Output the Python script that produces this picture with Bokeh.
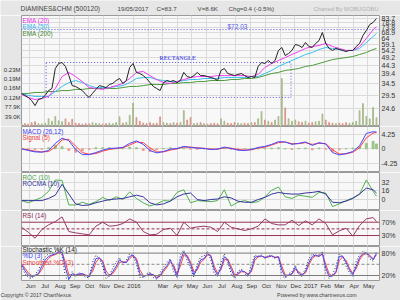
import pandas as pd
from bokeh.plotting import figure
from bokeh.layouts import column
from bokeh.models import (Range1d, LinearAxis, LinearScale, FixedTicker, Label, Span, Grid,
                          CustomJSTickFormatter)
from bokeh.embed import file_html
from bokeh.resources import INLINE

# ---------------- data ----------------
symbol = "DIAMINES&CHM (500120)"
last_date = "19/05/2017"
last_close = "C=83.7"
last_volume = "V=8.6K"
change_text = "Chg=0.4 (-0.5%)"
credit = "Charted By MOBUGOBU"
copyright_text = "Copyright \u00a9 2017 ChartNexus"
powered_text = "Powered by www.chartnexus.com"

week_dates = list(pd.date_range("2015-05-15", "2017-05-19", freq="7D"))
ind_dates = week_dates[::2] + [week_dates[-1]]

close = [30.2, 29.4, 28.6, 27.4, 25.6, 27.8, 28.2, 29.4, 31.4, 32.3,
         42.4, 45.4, 46.0, 43.6, 38.5, 33.6, 33.2, 32.3, 31.4, 29.8,
         28.6, 30.2, 31.9, 33.6, 33.2, 32.7, 34.1, 34.6, 36.0, 37.0,
         34.6, 36.0, 43.0, 45.4, 40.2, 39.6, 38.5, 37.0, 35.0, 33.2,
         32.3, 31.4, 35.0, 36.0, 35.5, 36.0, 35.0, 36.0, 40.2, 38.0,
         37.5, 38.5, 40.2, 38.5, 38.5, 38.0, 37.5, 37.0, 36.0, 41.3,
         42.4, 39.6, 39.1, 38.5, 39.1, 39.6, 38.5, 37.5, 38.0, 37.5,
         43.6, 46.0, 45.4, 47.3, 45.4, 47.3, 54.2, 56.4, 50.6, 52.0,
         54.2, 58.8, 58.0, 56.4, 60.4, 57.2, 56.4, 59.6, 62.0, 69.2,
         59.6, 55.7, 54.2, 55.7, 54.9, 54.2, 53.4, 54.2, 54.2, 57.2,
         59.6, 66.4, 71.1, 77.1, 79.3, 83.7]

volume_k = [12, 10, 8, 14, 18, 10, 9, 12, 30, 20,
            40, 22, 18, 30, 15, 28, 12, 10, 8, 10,
            9, 14, 12, 10, 8, 10, 12, 10, 14, 38,
            12, 15, 45, 95, 35, 20, 12, 10, 14, 10,
            12, 38, 15, 12, 10, 14, 12, 15, 64, 25,
            35, 10, 12, 14, 10, 8, 10, 12, 10, 30,
            20, 12, 10, 14, 12, 10, 12, 10, 14, 15,
            30, 60, 25, 20, 15, 25, 40, 197, 75, 30,
            20, 25, 18, 15, 20, 12, 15, 18, 20, 50,
            25, 15, 12, 10, 12, 10, 14, 12, 15, 20,
            64, 93, 40, 30, 77, 35]

ema20 = [29.8, 28.6, 27.8, 28.2, 29.0, 32.3, 38.0, 40.2, 38.0, 35.5,
         32.7, 32.3, 31.9, 32.7, 33.6, 34.6, 37.0, 40.2, 40.7, 38.5,
         36.5, 35.0, 34.6, 35.5, 36.5, 37.5, 38.0, 38.0, 38.0, 38.5,
         38.5, 38.5, 38.5, 38.5, 38.0, 39.1, 43.0, 45.4, 47.3, 49.2,
         51.3, 53.4, 55.7, 57.2, 58.0, 59.6, 57.2, 55.7, 54.2, 54.2,
         57.2, 63.8, 71.9, 74.9]
ema50 = [30.2, 29.4, 29.0, 29.0, 29.0, 31.0, 33.2, 35.0, 36.0, 35.0,
         33.6, 32.7, 32.7, 32.7, 33.2, 33.6, 35.0, 37.0, 37.5, 37.5,
         36.5, 36.0, 35.5, 35.5, 36.0, 36.5, 36.5, 37.0, 37.0, 37.0,
         37.5, 37.5, 37.5, 37.5, 38.0, 38.0, 39.6, 41.3, 43.6, 45.4,
         47.3, 49.2, 51.3, 52.7, 54.9, 56.4, 55.7, 54.9, 54.2, 54.2,
         55.7, 60.4, 65.5, 68.2]
ema200 = [30.2, 30.2, 30.6, 30.6, 31.0, 31.0, 31.4, 31.4, 31.9, 31.9,
          32.3, 32.3, 32.3, 32.3, 32.3, 32.7, 33.2, 33.2, 33.6, 34.1,
          34.1, 34.1, 34.6, 34.6, 35.0, 35.0, 35.5, 35.5, 36.0, 36.0,
          36.0, 36.5, 36.5, 37.0, 37.0, 37.5, 38.5, 39.6, 40.2, 41.3,
          41.8, 42.4, 43.6, 44.2, 45.4, 46.6, 47.9, 48.6, 49.2, 49.9,
          51.3, 52.7, 54.9, 55.7]

macd = [0.0, -0.5, -0.9, -1.0, -0.5, 1.6, 3.1, 2.4, -0.2, -1.7,
        -1.7, -1.1, -0.4, 0.1, 0.2, 0.4, 1.6, 2.3, 1.3, -0.5,
        -1.2, -0.8, -0.1, 0.1, 0.7, 0.4, 0.2, 0.1, -0.2, -0.1,
        0.5, 0.1, -0.4, -0.5, -0.2, 0.4, 0.7, 1.3, 2.1, 2.0,
        1.3, 1.6, 2.0, 1.0, 1.8, 1.4, -1.1, -1.8, -1.4, -0.8,
        0.9, 4.5, 5.0, 4.9]
signal = [0.0, -0.3, -0.7, -0.9, -0.8, 0.5, 2.6, 2.8, 0.8, -1.1,
          -1.6, -1.4, -0.7, -0.2, 0.1, 0.3, 1.1, 2.0, 1.8, 0.3,
          -0.9, -0.9, -0.4, 0.0, 0.5, 0.5, 0.3, 0.15, -0.1, -0.1,
          0.3, 0.2, -0.2, -0.4, -0.3, 0.2, 0.5, 1.1, 1.8, 2.0,
          1.5, 1.5, 1.8, 1.3, 1.6, 1.5, -0.3, -1.5, -1.5, -1.0,
          0.3, 3.2, 4.6, 4.8]
macd_hist = [0.0, -0.2, -0.2, -0.1, 0.3, 1.1, 0.6, -0.5, -1.0, -0.6,
             -0.2, 0.3, 0.3, 0.3, 0.1, 0.1, 0.5, 0.3, -0.5, -0.8,
             -0.3, 0.1, 0.3, 0.1, 0.2, -0.1, -0.1, 0.0, -0.1, 0.0,
             0.2, -0.1, -0.2, -0.1, 0.1, 0.2, 0.2, 0.2, 0.3, 0.0,
             -0.2, 0.1, 0.2, -0.3, 0.2, -0.1, -0.8, -0.3, 0.1, 0.2,
             0.6, 1.6, 2.2, 1.4]

roc = [-2, -6, -1, 4, 15, 36, 35, -10, -10, -5,
       -9, -4, 4, -2, 5, 0, 14, 2, -6, -12,
       -8, -2, -3, 13, 18, -6, -2, -3, -4, -2,
       18, -12, -5, -2, -6, -4, 5, 17, 23, 5,
       2, 8, 6, 4, 13, 12, -13, -8, -2, 3,
       10, 36, 15, 6]
rocma = [-2, -2, -2, -2, 2, 8, 28, 10, -8, -11,
         -10, -6, -3, 0, 1, 2, 5, 8, 5, -6,
         -10, -8, -3, 5, 10, 12, 0, -2, 0, 1,
         5, 3, -3, -5, -5, 0, 4, 10, 13, 11,
         10, 10, 12, 13, 15, 10, -5, -6, -3, 2,
         10, 21, 18, 12]

rsi = [55, 40, 22, 48, 62, 72, 86, 42, 38, 35,
       32, 58, 70, 58, 60, 66, 80, 70, 42, 32,
       34, 48, 52, 30, 70, 52, 56, 58, 55, 42,
       70, 55, 50, 45, 50, 58, 80, 66, 62, 62,
       76, 60, 74, 62, 80, 66, 32, 44, 52, 28,
       60, 80, 84, 72]

stoch_k = [45, 25, 15, 12, 22, 35, 55, 70, 78, 80,
           85, 88, 75, 15, 8, 30, 18, 28, 22, 15,
           14, 55, 75, 65, 45, 12, 20, 40, 55, 68,
           50, 62, 78, 72, 50, 15, 15, 25, 28, 15,
           10, 28, 42, 55, 65, 30, 15, 75, 88, 60,
           40, 15, 50, 70, 72, 85, 62, 25, 18, 55,
           78, 55, 25, 12, 30, 38, 25, 18, 50, 75,
           70, 75, 65, 75, 72, 65, 72, 20, 12, 25,
           30, 48, 20, 18, 40, 65, 78, 72, 75, 85,
           25, 12, 22, 45, 78, 70, 45, 28, 18, 58,
           75, 85, 80, 65, 58, 85]
stoch_d = [50, 33, 21, 17, 20, 25, 45, 62, 71, 75,
           78, 83, 82, 40, 10, 25, 20, 24, 25, 20,
           17, 40, 65, 68, 55, 22, 18, 30, 45, 62,
           55, 55, 71, 75, 60, 25, 17, 20, 25, 22,
           12, 20, 35, 46, 62, 42, 17, 60, 83, 70,
           50, 21, 40, 62, 65, 79, 72, 37, 21, 40,
           70, 62, 37, 17, 25, 33, 30, 21, 35, 68,
           72, 72, 68, 70, 73, 68, 70, 35, 17, 21,
           25, 42, 25, 21, 30, 55, 71, 75, 71, 79,
           40, 17, 19, 30, 71, 72, 55, 35, 22, 45,
           68, 79, 80, 72, 62, 79]
stoch_sd = [52, 40, 27, 20, 19, 23, 36, 54, 66, 73,
            76, 80, 82, 55, 22, 20, 22, 22, 24, 21,
            19, 30, 55, 66, 60, 32, 20, 25, 38, 55,
            57, 55, 65, 73, 66, 35, 20, 20, 23, 22,
            15, 18, 30, 42, 56, 48, 24, 45, 75, 74,
            56, 30, 35, 55, 63, 75, 74, 45, 26, 35,
            62, 64, 45, 23, 23, 30, 30, 24, 30, 60,
            70, 72, 69, 70, 72, 69, 70, 45, 22, 20,
            24, 36, 30, 23, 27, 48, 66, 73, 72, 77,
            50, 24, 19, 27, 60, 70, 60, 40, 26, 38,
            62, 75, 79, 74, 65, 75]

rect_start, rect_end = "2015-07-05", "2016-11-23"
rect_top, rect_bottom = 46.0, 28.6
resistance = 72.03
resistance_label = "$72.03"
rect_label = "RECTANGLE"

price_ticks = [83.7, 78.8, 73.8, 68.9, 64.0, 59.1, 54.2, 49.2, 44.3, 39.4, 34.5, 29.5, 24.6]
vol_ticks = [39000, 77900, 116900, 155800, 194800, 233700]
macd_ticks = [-4.25, 0, 4.25]
roc_ticks = [0, 16, 32]
rsi_ticks = [30, 70]
stoch_ticks = [20, 80]
month_names = ["Jan", "Feb", "Mar", "Apr", "May", "Jun", "Jul", "Aug", "Sep", "Oct", "Nov", "Dec"]
month_starts = list(pd.date_range("2015-06-01", "2017-05-01", freq="MS"))
skipped_month = pd.Timestamp("2016-02-01")

# ---------------- style ----------------
FONT = "Liberation Sans"
BG = "#e6e6e6"
PANEL = "#f8f8f8"
GRID = "#dadada"
BLUE = "#5a5ae6"


def ms(t):
    return int(pd.Timestamp(t).value // 10**6)


month_ms = [ms(m) for m in month_starts]
label_ms = {ms(m + pd.Timedelta(days=2)): (str(m.year) if m.month == 1 else month_names[m.month - 1])
            for m in month_starts if m != skipped_month}

x_range = Range1d(pd.Timestamp("2015-05-15"), pd.Timestamp("2017-05-25 06:00"))


def add_text(p, x, y, text, color, size="6.4px", font=FONT, style="normal", align="left"):
    p.add_layout(Label(x=x, y=y, x_units="screen", y_units="screen", text=text,
                       text_color=color, text_font=font, text_font_size=size,
                       text_font_style=style, text_baseline="middle", text_align=align))


def style_axis(ax, size="7px", standoff=2):
    ax.major_tick_line_color = None
    ax.minor_tick_line_color = None
    ax.major_tick_out = 0
    ax.major_tick_in = 0
    ax.minor_tick_out = 0
    ax.minor_tick_in = 0
    ax.axis_line_color = None
    ax.major_label_standoff = standoff
    ax.major_label_text_font = FONT
    ax.major_label_text_font_size = size
    ax.major_label_text_color = "#333333"


def make_panel(height, y_range, ticks, fmt_code, y_type="linear", hgrid=True, bottom=0):
    p = figure(width=400, height=height, x_range=x_range, y_range=y_range,
               y_axis_type=y_type, x_axis_location=None, y_axis_location="right",
               output_backend="svg", toolbar_location=None, title=None,
               min_border_left=19, min_border_right=21,
               min_border_top=0, min_border_bottom=bottom,
               background_fill_color=PANEL, border_fill_color=BG,
               outline_line_color="#9a9a9a")
    p.grid.visible = False
    p.add_layout(Grid(dimension=0, ticker=FixedTicker(ticks=month_ms), grid_line_color=GRID))
    if hgrid:
        p.add_layout(Grid(dimension=1, ticker=FixedTicker(ticks=ticks), grid_line_color=GRID))
    ax = p.yaxis[0]
    ax.ticker = FixedTicker(ticks=ticks)
    ax.formatter = CustomJSTickFormatter(code=fmt_code)
    style_axis(ax)
    return p


# ---------------- title strip ----------------
p0 = figure(width=400, height=15, x_range=Range1d(0, 400), y_range=Range1d(0, 15),
            x_axis_location=None, y_axis_location=None, output_backend="svg",
            toolbar_location=None, title=None, min_border=0,
            background_fill_color=BG, border_fill_color=BG, outline_line_color=None)
p0.grid.visible = False
add_text(p0, 20, 7, symbol, "#444444", size="6.6px")
add_text(p0, 117, 7, last_date, "#444444", size="6.2px")
add_text(p0, 156, 7, last_close, "#444444", size="6.2px")
add_text(p0, 197, 7, last_volume, "#444444", size="6.2px")
add_text(p0, 228, 7, change_text, "#444444", size="6.2px")
add_text(p0, 313, 7, credit, "#b0b0b0", size="5.8px")

# ---------------- main price panel ----------------
p1 = make_panel(111, Range1d(19.26, 87.2), price_ticks, "return tick.toString();", y_type="log")
p1.extra_y_ranges = {"vol": Range1d(-2000, 458000)}
p1.extra_y_scales = {"vol": LinearScale()}
vol = [v * 1000 for v in volume_k]
vol_colors = ["#a9bb8e" if i == 0 or close[i] >= close[i - 1] else "#d69a8c" for i in range(len(close))]
p1.vbar(x=week_dates, top=vol, bottom=0, width=1.6 * 86400000, color=vol_colors, y_range_name="vol")
vax = LinearAxis(y_range_name="vol", ticker=FixedTicker(ticks=vol_ticks),
                 formatter=CustomJSTickFormatter(code="if (tick >= 100000) {return (tick/1e6).toFixed(2) + 'M';} return (tick/1000).toFixed(1) + 'K';"))
style_axis(vax, size="6px", standoff=1)
p1.add_layout(vax, "left")

p1.add_layout(Span(location=resistance, dimension="width", line_color=BLUE, line_dash="1 2", line_width=1))
p1.quad(left=[pd.Timestamp(rect_start)], right=[pd.Timestamp(rect_end)], top=[rect_top], bottom=[rect_bottom],
        fill_alpha=0, line_color=BLUE, line_dash="1 2", line_width=1)
p1.line(ind_dates, ema200, line_color="#4f9a3c", line_width=1)
p1.line(ind_dates, ema50, line_color="#39c0f0", line_width=1)
p1.line(ind_dates, ema20, line_color="#f03cf0", line_width=1)
p1.line(week_dates, close, line_color="#222222", line_width=1)

add_text(p1, 1, 106, "EMA (20)", "#ee33ee")
add_text(p1, 1, 100, "EMA (50)", "#30b8ee")
add_text(p1, 1, 93, "EMA (200)", "#3f8a30")
add_text(p1, 206, 100, resistance_label, BLUE, size="6.5px")
add_text(p1, 138, 69, rect_label, BLUE, size="5.8px", font="Liberation Serif", style="bold")

# ---------------- MACD ----------------
p2 = make_panel(46, Range1d(-6.94, 6.53), macd_ticks, "return tick.toString();")
hist_colors = ["#9cc48a" if h >= 0 else "#eaa08f" for h in macd_hist]
p2.vbar(x=ind_dates, top=macd_hist, bottom=0, width=4 * 86400000, color=hist_colors)
p2.line(ind_dates, signal, line_color="#ff4040", line_width=1)
p2.line(ind_dates, macd, line_color="#4646ff", line_width=1)
add_text(p2, 1, 41.5, "MACD (26,12)", "#4040ee")
add_text(p2, 1, 35, "Signal (5)", "#ee4040")

# ---------------- ROC ----------------
p3 = make_panel(38, Range1d(-20.2, 49.7), roc_ticks, "return tick.toString();")
p3.line(ind_dates, roc, line_color="#4fb04f", line_width=1)
p3.line(ind_dates, rocma, line_color="#34349c", line_width=1)
add_text(p3, 1, 33, "ROC (10)", "#44a044")
add_text(p3, 1, 27, "ROCMA (10)", "#34349c")

# ---------------- RSI ----------------
p4 = make_panel(36, Range1d(-3, 105.2), rsi_ticks, "return tick + '%';", hgrid=False)
for lvl in rsi_ticks:
    p4.add_layout(Span(location=lvl, dimension="width", line_color="#993355", line_width=1))
p4.add_layout(Span(location=50, dimension="width", line_color="#993355", line_dash="3 2", line_width=1))
p4.line(ind_dates, rsi, line_color="#9a3a6a", line_width=1)
add_text(p4, 1, 31.5, "RSI (14)", "#8a2a5a")

# ---------------- Stochastic (with month axis and footer) ----------------
p5 = make_panel(54, Range1d(6.6, 97.7), stoch_ticks, "return tick + '%';", hgrid=False, bottom=18)
for lvl in stoch_ticks:
    p5.add_layout(Span(location=lvl, dimension="width", line_color="#7a7a7a", line_width=1))
p5.add_layout(Span(location=50, dimension="width", line_color="#8a8a8a", line_dash="3 2", line_width=1))
p5.line(week_dates, stoch_k, line_color="#333333", line_dash="1 2", line_width=1)
p5.line(week_dates, stoch_sd, line_color="#ff4040", line_width=1)
p5.line(week_dates, stoch_d, line_color="#4646ff", line_width=1)
add_text(p5, 1, 31.5, "Stochastic %K (14)", "#222222")
add_text(p5, 1, 25, "%D (3)", "#4040ee")
add_text(p5, 1, 18.5, "Smoothed %D (3)", "#ee4040")

xax = LinearAxis(ticker=FixedTicker(ticks=list(label_ms.keys())), major_label_overrides=label_ms)
style_axis(xax, size="6px", standoff=2)
xax.major_label_text_align = "left"
p5.add_layout(xax, "below")

p5.extra_x_ranges = {"foot": Range1d(0, 400)}
footer_labels = {0: copyright_text, 330: powered_text}
fax = LinearAxis(x_range_name="foot", ticker=FixedTicker(ticks=list(footer_labels.keys())),
                 major_label_overrides=footer_labels)
style_axis(fax, size="5.3px", standoff=0)
fax.major_label_text_align = "left"
fax.major_label_text_color = "#444444"
p5.add_layout(fax, "below")

panels = column(p1, p2, p3, p4, p5, spacing=0)
layout = column(p0, panels, spacing=0)
html = file_html(layout, INLINE)
html = html.replace("<head>", "<head><style>html, body { margin: 0; padding: 0; }</style>", 1)
open("out.html", "w").write(html)
